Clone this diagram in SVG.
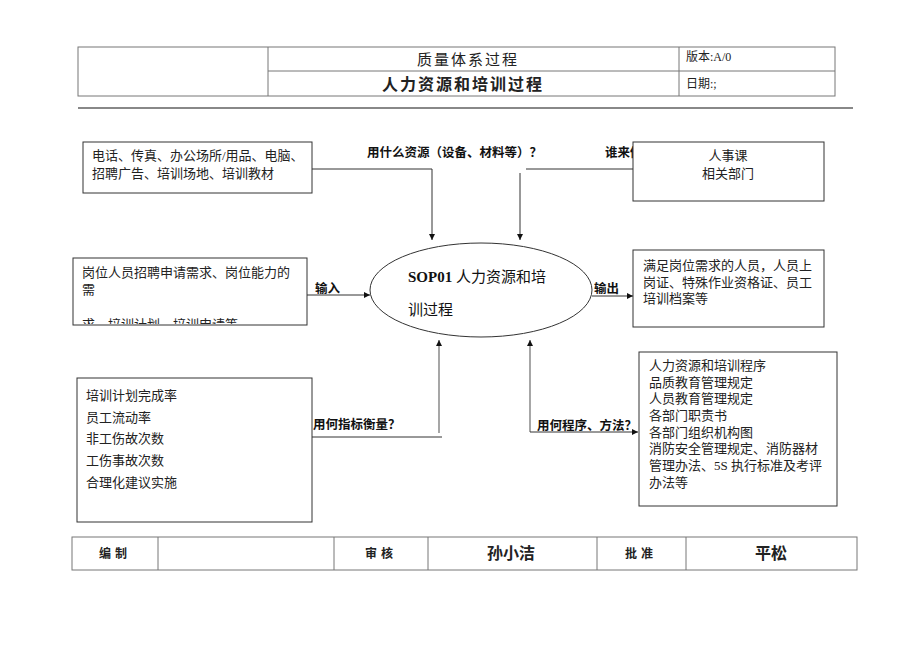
<svg xmlns="http://www.w3.org/2000/svg" width="920" height="651" viewBox="0 0 920 651">
<style>
.bx{fill:#fff;stroke:#333;stroke-width:1}
.tb{fill:none;stroke:#777;stroke-width:1}
.t{font-family:"Liberation Serif","Noto Sans CJK SC",serif;font-size:13px;fill:#222}
.lb{font-family:"Liberation Sans","Noto Sans CJK SC",sans-serif;font-size:12.5px;font-weight:bold;fill:#111}
.ln{fill:none;stroke:#333;stroke-width:1}
.lg{fill:none;stroke:#777;stroke-width:1.3}
.hd{font-family:"Liberation Serif","Noto Sans CJK SC",serif;fill:#222}
</style>
<defs>
<marker id="ah" viewBox="0 0 10 10" refX="10" refY="5" markerWidth="6" markerHeight="6" markerUnits="userSpaceOnUse" orient="auto">
<path d="M0,0L10,5L0,10z" fill="#111"/>
</marker>
<clipPath id="cin"><rect x="73" y="258" width="234" height="66"/></clipPath>
</defs>
<rect width="920" height="651" fill="#fff"/>

<g id="header">
<rect class="tb" x="78" y="47" width="757" height="49"/>
<line class="tb" x1="268" y1="47" x2="268" y2="96"/>
<line class="tb" x1="679" y1="47" x2="679" y2="96"/>
<line class="tb" x1="268" y1="71" x2="835" y2="71"/>
<text class="hd" x="468" y="65" font-size="15" letter-spacing="2" text-anchor="middle">质量体系过程</text>
<text class="hd" x="463" y="90" font-size="16" font-weight="bold" letter-spacing="2" text-anchor="middle" font-family="Liberation Sans,Noto Sans CJK SC,sans-serif">人力资源和培训过程</text>
<text class="hd" x="686" y="61" font-size="12">版本:A/0</text>
<text class="hd" x="686" y="88" font-size="12">日期:;</text>
<line x1="78" y1="108" x2="853" y2="108" stroke="#888" stroke-width="2"/>
</g>

<g id="connectors">
<polyline class="ln" points="312,169 432,169 432,240" marker-end="url(#ah)"/>
<polyline class="ln" points="633,169 526,169"/>
<line class="ln" x1="520" y1="173" x2="520" y2="240" marker-end="url(#ah)"/>
<line class="ln" x1="307" y1="295" x2="370" y2="295" marker-end="url(#ah)"/>
<line class="ln" x1="592" y1="296" x2="633" y2="296" marker-end="url(#ah)"/>
<line class="ln" x1="312" y1="437" x2="442" y2="437"/>
<line class="lg" x1="439" y1="433" x2="439" y2="340" marker-end="url(#ah)"/>
<line class="lg" x1="530" y1="432" x2="530" y2="340" marker-end="url(#ah)"/>
<line class="ln" x1="530" y1="432" x2="638" y2="432" marker-end="url(#ah)"/>
<text class="lb" x="367" y="157">用什么资源（设备、材料等）？</text>
<text class="lb" x="605" y="157">谁来做？</text>
<text class="lb" x="315" y="293">输入</text>
<text class="lb" x="594" y="293">输出</text>
<text class="lb" x="313" y="429">用何指标衡量？</text>
<text class="lb" x="537" y="430">用何程序、方法？</text>
</g>

<g id="resources">
<rect class="bx" x="83" y="142" width="229" height="51"/>
<text class="t" x="92" y="160" font-size="13.5">电话、传真、办公场所/用品、电脑、</text>
<text class="t" x="92" y="178" font-size="13.5">招聘广告、培训场地、培训教材</text>
</g>

<g id="who">
<rect class="bx" x="633" y="142" width="191" height="59"/>
<text class="t" x="728" y="160" text-anchor="middle">人事课</text>
<text class="t" x="728" y="178" text-anchor="middle">相关部门</text>
</g>

<g id="input">
<rect class="bx" x="73" y="258" width="234" height="67"/>
<text class="t" x="82" y="277">岗位人员招聘申请需求、岗位能力的</text>
<text class="t" x="82" y="294">需</text>
<text class="t" x="82" y="329" clip-path="url(#cin)">求、培训计划、培训申请等</text>
</g>

<g id="process">
<ellipse cx="481" cy="290" rx="111" ry="47" fill="#fff" stroke="#333" stroke-width="1"/>
<text x="408" y="282" font-size="15" fill="#111" font-family="Liberation Serif,Noto Sans CJK SC,serif"><tspan font-weight="bold">SOP01 </tspan>人力资源和培</text>
<text x="408" y="315" font-size="15" fill="#111" font-family="Liberation Serif,Noto Sans CJK SC,serif">训过程</text>
</g>

<g id="output">
<rect class="bx" x="633" y="250" width="191" height="77"/>
<text class="t" x="643" y="270">满足岗位需求的人员，人员上</text>
<text class="t" x="643" y="287">岗证、特殊作业资格证、员工</text>
<text class="t" x="643" y="303">培训档案等</text>
</g>

<g id="metrics">
<rect class="bx" x="77" y="378" width="235" height="144"/>
<text class="t" x="86" y="400">培训计划完成率</text>
<text class="t" x="86" y="422">员工流动率</text>
<text class="t" x="86" y="443">非工伤故次数</text>
<text class="t" x="86" y="465">工伤事故次数</text>
<text class="t" x="86" y="487">合理化建议实施</text>
</g>

<g id="procedures">
<rect class="bx" x="639" y="352" width="198" height="154"/>
<text class="t" x="649" y="370">人力资源和培训程序</text>
<text class="t" x="649" y="387">品质教育管理规定</text>
<text class="t" x="649" y="403">人员教育管理规定</text>
<text class="t" x="649" y="420">各部门职责书</text>
<text class="t" x="649" y="437">各部门组织机构图</text>
<text class="t" x="649" y="453">消防安全管理规定、消防器材</text>
<text class="t" x="649" y="470">管理办法、5S 执行标准及考评</text>
<text class="t" x="649" y="487">办法等</text>
</g>

<g id="footer">
<rect class="tb" x="72" y="537" width="785" height="33"/>
<line class="tb" x1="158" y1="537" x2="158" y2="570"/>
<line class="tb" x1="334" y1="537" x2="334" y2="570"/>
<line class="tb" x1="428" y1="537" x2="428" y2="570"/>
<line class="tb" x1="597" y1="537" x2="597" y2="570"/>
<line class="tb" x1="686" y1="537" x2="686" y2="570"/>
<text class="hd" x="115" y="558" font-size="12" font-weight="bold" text-anchor="middle" letter-spacing="4" font-family="Liberation Sans,Noto Sans CJK SC,sans-serif">编制</text>
<text class="hd" x="381" y="558" font-size="12" font-weight="bold" text-anchor="middle" letter-spacing="4" font-family="Liberation Sans,Noto Sans CJK SC,sans-serif">审核</text>
<text class="hd" x="511" y="559" font-size="16" font-weight="bold" text-anchor="middle" font-family="Liberation Sans,Noto Sans CJK SC,sans-serif">孙小洁</text>
<text class="hd" x="641" y="558" font-size="12" font-weight="bold" text-anchor="middle" letter-spacing="4" font-family="Liberation Sans,Noto Sans CJK SC,sans-serif">批准</text>
<text class="hd" x="771" y="559" font-size="16" font-weight="bold" text-anchor="middle" font-family="Liberation Sans,Noto Sans CJK SC,sans-serif">平松</text>
</g>
</svg>
